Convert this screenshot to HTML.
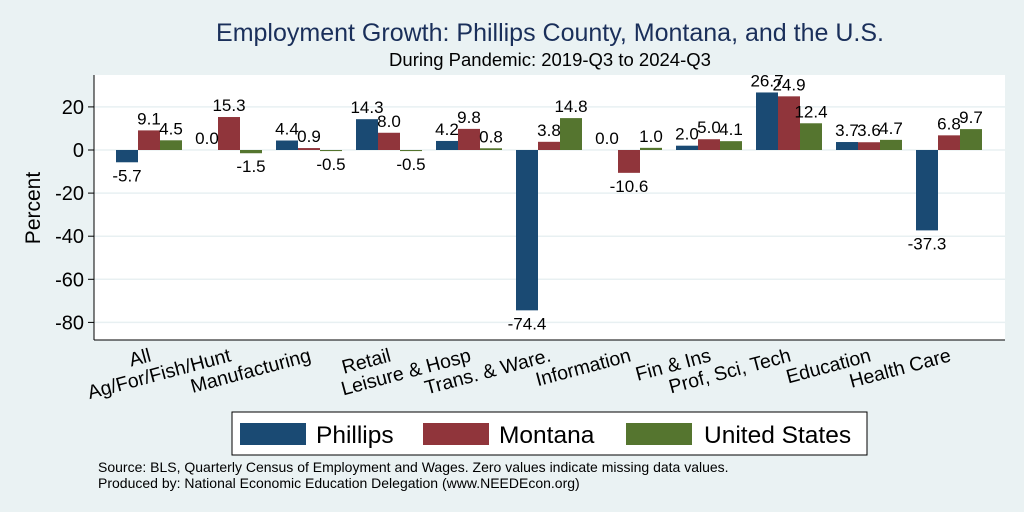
<!DOCTYPE html>
<html><head><meta charset="utf-8"><style>
body{margin:0;background:#eaf2f3;}
svg{display:block;font-family:"Liberation Sans",sans-serif;}
</style></head><body>
<svg id="c" width="1024" height="512">
<rect width="1024" height="512" fill="#eaf2f3"/>
<text x="550" y="41" font-size="25" fill="#1a2f5a" text-anchor="middle">Employment Growth: Phillips County, Montana, and the U.S.</text>
<text x="550" y="66" font-size="18.5" fill="#000" text-anchor="middle">During Pandemic: 2019-Q3 to 2024-Q3</text>
<rect x="94" y="75" width="911" height="265" fill="#fff"/>
<g id="grid"></g><g id="bars"></g><g id="labels"></g>
<line x1="94" y1="75" x2="94" y2="340" stroke="#000"/>
<line x1="94" y1="340" x2="1005" y2="340" stroke="#000"/>
<text transform="translate(40,208) rotate(-90)" font-size="21" text-anchor="middle">Percent</text>
<g>
<rect x="232" y="412" width="635" height="43" fill="#fff" stroke="#000"/>
<rect x="240" y="423" width="66" height="22" fill="#1a4a73"/>
<text x="316" y="443" font-size="24.5">Phillips</text>
<rect x="423" y="423" width="66" height="22" fill="#90353b"/>
<text x="499" y="443" font-size="24.5">Montana</text>
<rect x="626" y="423" width="66" height="22" fill="#55752f"/>
<text x="704" y="443" font-size="24.5">United States</text>
</g>
<text x="98" y="472" font-size="14">Source: BLS, Quarterly Census of Employment and Wages. Zero values indicate missing data values.</text>
<text x="98" y="488" font-size="14">Produced by: National Economic Education Delegation (www.NEEDEcon.org)</text>
</svg>
<script>
const categories=["All","Ag/For/Fish/Hunt","Manufacturing","Retail","Leisure & Hosp","Trans. & Ware.","Information","Fin & Ins","Prof, Sci, Tech","Education","Health Care"];
const phillips=[-5.7,0.0,4.4,14.3,4.2,-74.4,0.0,2.0,26.7,3.7,-37.3];
const montana=[9.1,15.3,0.9,8.0,9.8,3.8,-10.6,5.0,24.9,3.6,6.8];
const us=[4.5,-1.5,-0.5,-0.5,0.8,14.8,1.0,4.1,12.4,4.7,9.7];
const yTicks=[20,0,-20,-40,-60,-80];
const NS="http://www.w3.org/2000/svg";
function y(v){return 150-v*2.155;}
function x(i){return 149+i*80;}
function mk(t,a,p){const e=document.createElementNS(NS,t);for(const k in a)e.setAttribute(k,a[k]);p.appendChild(e);return e;}
const grid=document.getElementById('grid'),bars=document.getElementById('bars'),labels=document.getElementById('labels');
yTicks.forEach(t=>{
 const l=mk('line',{x1:94,x2:1005,y1:y(t),y2:y(t),stroke:'#e8f0f2','stroke-width':1.5},grid);
 
 
 const tk=mk('line',{x1:88,x2:94,y1:y(t),y2:y(t),stroke:'#000'},grid);
 
 
 const tx=mk('text',{x:84,y:y(t)+7,'font-size':20,'text-anchor':'end'},grid);
 tx.textContent=t;
 
 
});
const series=[[phillips,'#1a4a73','phillips'],[montana,'#90353b','montana'],[us,'#55752f','us']];
categories.forEach((c,i)=>{
 series.forEach(([d,col,nm],j)=>{
  const v=d[i],bx=x(i)-33+j*22;
  const r=mk('rect',{x:bx,y:Math.min(y(v),y(0)),width:22,height:Math.abs(y(v)-y(0)),fill:col},bars);
  
  
  const ly=v>=0?y(v)-6:y(v)+19;
  const t=mk('text',{x:bx+11,y:ly,'font-size':17,'text-anchor':'middle'},labels);
  t.textContent=v.toFixed(1);
  
  
 });
 const t=mk('text',{'font-size':19.5,'text-anchor':'end',transform:`translate(${x(i)+3},361) rotate(-15)`},labels);
 t.textContent=c;
 
 
});
</script>
</body></html>
